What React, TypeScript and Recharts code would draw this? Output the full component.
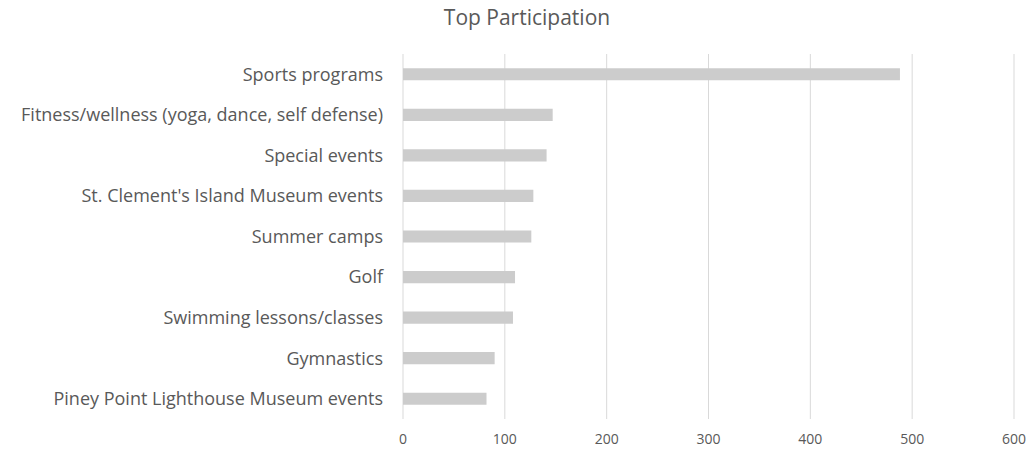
import React from 'react';
import { BarChart, Bar, XAxis, YAxis, CartesianGrid } from 'recharts';

const activities = [
  'Sports programs',
  'Fitness/wellness (yoga, dance, self defense)',
  'Special events',
  "St. Clement's Island Museum events",
  'Summer camps',
  'Golf',
  'Swimming lessons/classes',
  'Gymnastics',
  'Piney Point Lighthouse Museum events',
];
const participants = [488, 147, 141, 128, 126, 110, 108, 90, 82];
const xTicks = [0, 100, 200, 300, 400, 500, 600];

const data = activities.map((name, i) => ({ name, value: participants[i] }));

const FONT = '"Open Sans", sans-serif';

export default function App() {
  return (
    <div style={{ position: 'absolute', left: 0, top: 0, width: 1028, height: 451, background: '#fff', fontFamily: FONT }}>
      <div style={{ position: 'absolute', top: 3, left: 13, width: 1028, textAlign: 'center', fontSize: 21, color: '#595959' }}>
        Top Participation
      </div>
      <BarChart
        width={1028}
        height={451}
        data={data}
        layout="vertical"
        barCategoryGap="65%"
        margin={{ top: 54, right: 14, left: 0, bottom: 0 }}
      >
        <CartesianGrid horizontal={false} stroke="#d9d9d9" />
        <XAxis
          type="number"
          domain={[0, 600]}
          ticks={xTicks}
          axisLine={false}
          tickLine={false}
          tickSize={0}
          tickMargin={15}
          height={32}
          tick={{ fill: '#595959', fontSize: 14, fontFamily: FONT }}
        />
        <YAxis
          type="category"
          dataKey="name"
          width={403}
          axisLine={false}
          tickLine={false}
          tickSize={0}
          tickMargin={20}
          interval={0}
          tick={{ fill: '#595959', fontSize: 18, fontFamily: FONT }}
        />
        <Bar dataKey="value" fill="#cccccc" isAnimationActive={false} />
      </BarChart>
    </div>
  );
}
